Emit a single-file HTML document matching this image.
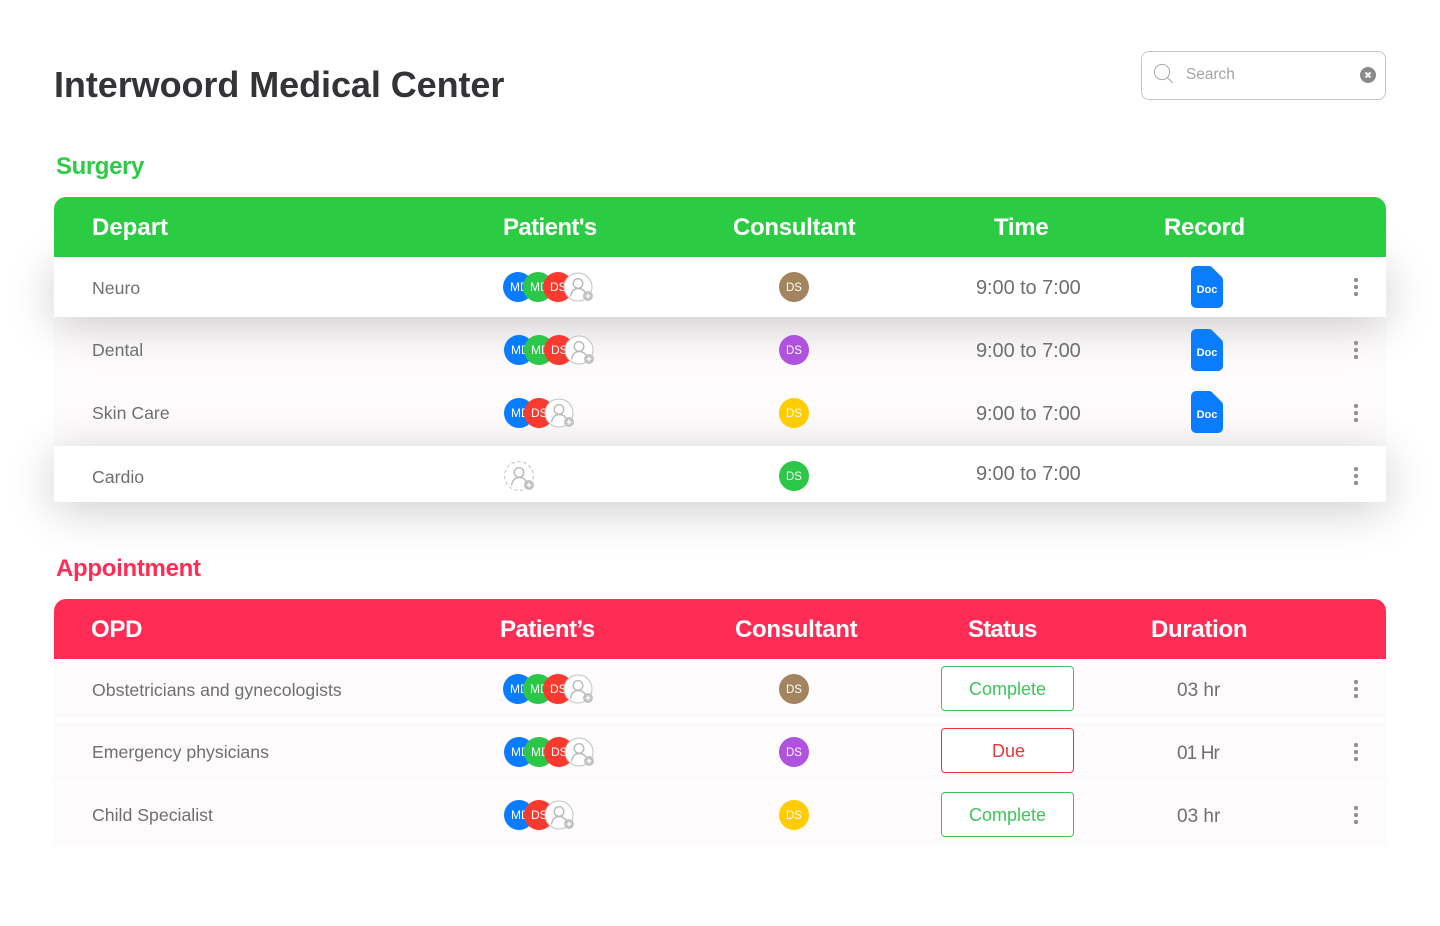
<!DOCTYPE html>
<html lang="en">
<head>
<meta charset="utf-8">
<title>Interwoord Medical Center</title>
<style>
html,body{margin:0;padding:0;background:#fff}
body{position:relative;width:1440px;height:926px;overflow:hidden;font-family:"Liberation Sans",sans-serif}
body *{box-sizing:border-box}
.t{position:absolute;height:30px;line-height:30px;white-space:nowrap}
.row{position:absolute;left:54px;width:1332px}
.soft{background:#fdfbfc;z-index:1}
.lifted{background:#fff;z-index:2;box-shadow:0 8px 46px rgba(0,0,0,.2)}
.head{position:absolute;left:54px;width:1332px;height:60px;border-radius:12px 12px 0 0;z-index:3}
.ht{position:absolute;top:16px;height:30px;line-height:30px;font-size:24px;font-weight:bold;color:#fff;letter-spacing:-.3px;white-space:nowrap}
.cell{position:absolute;height:24px;line-height:24px;color:#6f6f6f;white-space:nowrap;z-index:4}
.name{left:92px;font-size:17.7px}
.time{left:976px;font-size:20px;letter-spacing:-.08px}
.dur{left:1177px;font-size:19px}
.av{position:absolute;width:30px;height:30px;border-radius:50%;color:#fff;font-size:12px;line-height:30px;padding-left:7px;overflow:hidden;white-space:nowrap;z-index:4}
.con{left:779px;padding-left:0;text-align:center;font-size:11.5px;line-height:32px}
.add{position:absolute;width:36px;height:36px;z-index:5;overflow:visible}
.doc{position:absolute;left:1191px;width:32px;height:42px;z-index:4}
.more{position:absolute;left:1354px;width:4px;height:18px;z-index:4;background:radial-gradient(circle at 2px 2px,#919191 2px,transparent 2.4px) 0 0/4px 7px repeat-y}
.btn{position:absolute;left:941px;width:133px;height:45px;border:1px solid;border-radius:4px;background:#fff;font-size:18px;line-height:44px;text-align:center;z-index:4;font-family:"Liberation Sans",sans-serif}
.ok{border-color:#3ec45b;color:#3ec45b}
.due{border-color:#e5383b;color:#e5383b;padding-left:2px}
</style>
</head>
<body>
<svg width="0" height="0" style="position:absolute">
<symbol id="person-add" viewBox="0 0 36 36">
<circle cx="15" cy="15" r="14" fill="#fff" stroke="#c2c2c2" stroke-width="1"/>
<circle cx="15" cy="11.5" r="4.8" fill="none" stroke="#b8b8b8" stroke-width="1.4"/>
<path d="M7.5 24.5c.6-5 3.5-8 7.5-8s6.5 2 7.5 5" fill="none" stroke="#b8b8b8" stroke-width="1.4"/>
<circle cx="25" cy="24" r="5" fill="#c2c2c2"/>
<path d="M22.6 24h4.8M25 21.6v4.8" stroke="#fff" stroke-width="1.3"/>
</symbol>
<symbol id="person-add-dashed" viewBox="0 0 36 36">
<circle cx="15" cy="15" r="14.4" fill="#fff" stroke="#c2c2c2" stroke-width="1" stroke-dasharray="3.5 2.5"/>
<circle cx="15" cy="11.5" r="4.8" fill="none" stroke="#b8b8b8" stroke-width="1.4"/>
<path d="M7.5 24.5c.6-5 3.5-8 7.5-8s6.5 2 7.5 5" fill="none" stroke="#b8b8b8" stroke-width="1.4"/>
<circle cx="25" cy="24" r="5" fill="#c2c2c2"/>
<path d="M22.6 24h4.8M25 21.6v4.8" stroke="#fff" stroke-width="1.3"/>
</symbol>
<symbol id="doc-shape" viewBox="0 0 32 42">
<path d="M5 0H18a4 4 0 0 1 3 1.2L30.800 11a4 4 0 0 1 1.200 3V37a5 5 0 0 1-5 5H5a5 5 0 0 1-5-5V5a5 5 0 0 1 5-5Z" fill="#0a7cff"/>
</symbol>
</svg>

<div class="t" style="left:54px;top:63px;height:44px;line-height:44px;font-size:36px;font-weight:bold;color:#333437;letter-spacing:-.07px">Interwoord Medical Center</div>

<div style="position:absolute;left:1141px;top:51px;width:245px;height:49px;border:1px solid #c6c6c6;border-radius:8px;background:#fff"></div>
<svg style="position:absolute;left:1153px;top:63px" width="22" height="22" viewBox="0 0 22 22"><circle cx="9" cy="9" r="7.6" fill="none" stroke="#a8a8a8" stroke-width="1"/><path d="M14.6 14.600L20 20" stroke="#a8a8a8" stroke-width="1"/></svg>
<div class="t" style="left:1186px;top:60px;font-size:15.4px;color:#a3a3a3">Search</div>
<svg style="position:absolute;left:1360px;top:67px" width="16" height="16" viewBox="0 0 16 16"><circle cx="8" cy="8" r="8" fill="#8a8a8a"/><path d="M5.500 5.500l5 5M10.500 5.500l-5 5" stroke="#fff" stroke-width="2"/></svg>

<div class="t" style="left:56px;top:152px;font-size:24px;font-weight:bold;color:#2ecb47;letter-spacing:-.4px">Surgery</div>

<div class="head" style="top:197px;background:#2bcb43">
<span class="ht" style="left:38px;letter-spacing:0">Depart</span>
<span class="ht" style="left:449px;letter-spacing:-.6px">Patient's</span>
<span class="ht" style="left:679px">Consultant</span>
<span class="ht" style="left:940px">Time</span>
<span class="ht" style="left:1110px">Record</span>
</div>

<div class="row lifted" style="top:257px;height:60px"></div>
<div class="row soft" style="top:317px;height:65px"></div>
<div class="row soft" style="top:383px;height:63px"></div>
<div class="row lifted" style="top:446px;height:56px"></div>

<div class="cell name" style="top:276px">Neuro</div>
<div class="av" style="left:503px;top:272px;background:#0a7cff">MD</div>
<div class="av" style="left:523px;top:272px;background:#2bc748">MD</div>
<div class="av" style="left:543px;top:272px;background:#fb3a2f">DS</div>
<svg class="add" style="left:563px;top:272px"><use href="#person-add"/></svg>
<div class="av con" style="top:272px;background:#a2845e">DS</div>
<div class="cell time" style="top:276px">9:00 to 7:00</div>
<svg class="doc" style="top:266px" viewBox="0 0 32 42"><use href="#doc-shape"/><text x="16" y="27" text-anchor="middle" fill="#fff" font-size="11" font-weight="bold" font-family="Liberation Sans, sans-serif">Doc</text></svg>
<div class="more" style="top:278px"></div>

<div class="cell name" style="top:338px">Dental</div>
<div class="av" style="left:504px;top:335px;background:#0a7cff">MD</div>
<div class="av" style="left:524px;top:335px;background:#2bc748">MD</div>
<div class="av" style="left:544px;top:335px;background:#fb3a2f">DS</div>
<svg class="add" style="left:564px;top:335px"><use href="#person-add"/></svg>
<div class="av con" style="top:335px;background:#af52de">DS</div>
<div class="cell time" style="top:339px">9:00 to 7:00</div>
<svg class="doc" style="top:329px" viewBox="0 0 32 42"><use href="#doc-shape"/><text x="16" y="27" text-anchor="middle" fill="#fff" font-size="11" font-weight="bold" font-family="Liberation Sans, sans-serif">Doc</text></svg>
<div class="more" style="top:341px"></div>

<div class="cell name" style="top:401px">Skin Care</div>
<div class="av" style="left:504px;top:398px;background:#0a7cff">MD</div>
<div class="av" style="left:524px;top:398px;background:#fb3a2f">DS</div>
<svg class="add" style="left:544px;top:398px"><use href="#person-add"/></svg>
<div class="av con" style="top:398px;background:#ffcc00">DS</div>
<div class="cell time" style="top:402px">9:00 to 7:00</div>
<svg class="doc" style="top:391px" viewBox="0 0 32 42"><use href="#doc-shape"/><text x="16" y="27" text-anchor="middle" fill="#fff" font-size="11" font-weight="bold" font-family="Liberation Sans, sans-serif">Doc</text></svg>
<div class="more" style="top:404px"></div>

<div class="cell name" style="top:465px">Cardio</div>
<svg class="add" style="left:504px;top:461px"><use href="#person-add-dashed"/></svg>
<div class="av con" style="top:461px;background:#2bc748">DS</div>
<div class="cell time" style="top:462px">9:00 to 7:00</div>
<div class="more" style="top:467px"></div>

<div class="t" style="left:56px;top:554px;font-size:24px;font-weight:bold;color:#ff2d55;letter-spacing:-.3px;z-index:3">Appointment</div>

<div class="head" style="top:599px;background:#ff2d55">
<span class="ht" style="left:37px">OPD</span>
<span class="ht" style="left:446px;letter-spacing:-.5px">Patient’s</span>
<span class="ht" style="left:681px">Consultant</span>
<span class="ht" style="left:914px;letter-spacing:-.8px">Status</span>
<span class="ht" style="left:1097px">Duration</span>
</div>

<div class="row soft" style="top:659px;height:59px"></div>
<div class="row soft" style="top:722px;height:59px"></div>
<div class="row soft" style="top:785px;height:60px"></div>

<div class="cell name" style="top:678px">Obstetricians and gynecologists</div>
<div class="av" style="left:503px;top:674px;background:#0a7cff">MD</div>
<div class="av" style="left:523px;top:674px;background:#2bc748">MD</div>
<div class="av" style="left:543px;top:674px;background:#fb3a2f">DS</div>
<svg class="add" style="left:563px;top:674px"><use href="#person-add"/></svg>
<div class="av con" style="top:674px;background:#a2845e">DS</div>
<div class="btn ok" style="top:666px">Complete</div>
<div class="cell dur" style="top:679px">03 hr</div>
<div class="more" style="top:680px"></div>

<div class="cell name" style="top:740px">Emergency physicians</div>
<div class="av" style="left:504px;top:737px;background:#0a7cff">MD</div>
<div class="av" style="left:524px;top:737px;background:#2bc748">MD</div>
<div class="av" style="left:544px;top:737px;background:#fb3a2f">DS</div>
<svg class="add" style="left:564px;top:737px"><use href="#person-add"/></svg>
<div class="av con" style="top:737px;background:#af52de">DS</div>
<div class="btn due" style="top:728px">Due</div>
<div class="cell dur" style="top:742px;letter-spacing:-.9px">01 Hr</div>
<div class="more" style="top:743px"></div>

<div class="cell name" style="top:803px">Child Specialist</div>
<div class="av" style="left:504px;top:800px;background:#0a7cff">MD</div>
<div class="av" style="left:524px;top:800px;background:#fb3a2f">DS</div>
<svg class="add" style="left:544px;top:800px"><use href="#person-add"/></svg>
<div class="av con" style="top:800px;background:#ffcc00">DS</div>
<div class="btn ok" style="top:792px">Complete</div>
<div class="cell dur" style="top:805px">03 hr</div>
<div class="more" style="top:806px"></div>
</body>
</html>
